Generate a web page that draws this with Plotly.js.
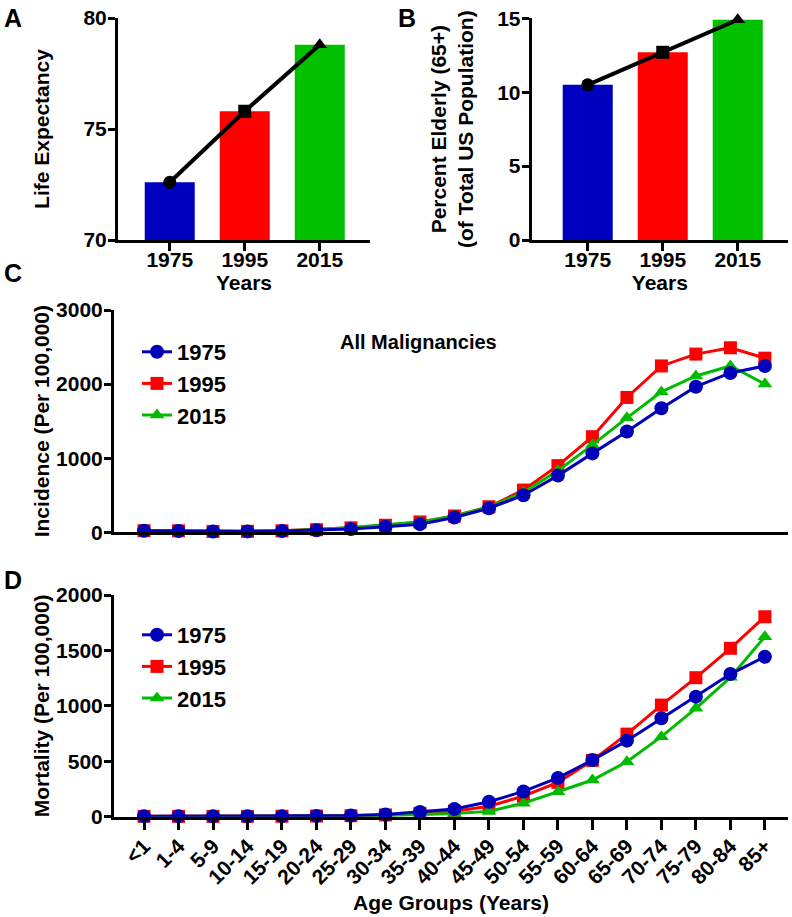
<!DOCTYPE html>
<html><head><meta charset="utf-8">
<script src="https://cdn.plot.ly/plotly-3.0.1.min.js"></script>
<style>html,body{margin:0;padding:0;background:#fff}#chart{width:792px;height:917px}</style>
</head><body><div id="chart"></div>
<script>
// ---- data ----
const years = ['1975', '1995', '2015'];
const lifeExpectancy = [72.6, 75.8, 78.8];
const percentElderly = [10.5, 12.7, 14.9];

const ageGroups = ['<1','1-4','5-9','10-14','15-19','20-24','25-29','30-34','35-39','40-44',
  '45-49','50-54','55-59','60-64','65-69','70-74','75-79','80-84','85+'];

const incidence1975 = [20, 18, 10, 12, 18, 28, 45, 75, 110, 200, 325, 500, 765, 1065, 1360, 1675, 1965, 2150, 2245];
const incidence1995 = [22, 20, 12, 13, 20, 35, 60, 95, 140, 220, 345, 570, 900, 1290, 1820, 2245, 2405, 2490, 2350];
const incidence2015 = [25, 22, 13, 15, 22, 38, 65, 100, 140, 220, 340, 540, 830, 1180, 1545, 1895, 2110, 2245, 2000];

const mortality1975 = [4, 4, 4, 4, 5, 7, 10, 20, 42, 70, 135, 228, 350, 511, 686, 888, 1083, 1287, 1443];
const mortality1995 = [3, 3, 3, 3, 4, 6, 9, 16, 30, 50, 95, 185, 310, 508, 745, 1007, 1254, 1519, 1804];
const mortality2015 = [2, 2, 2, 2, 3, 4, 6, 10, 18, 28, 48, 122, 225, 331, 496, 722, 978, 1257, 1624];

const panelLabels = ['A', 'B', 'C', 'D'];

// ---- styles ----
const W = 792, H = 917;
const FONT = '"Liberation Sans", Arial, sans-serif';
const barColors = ['#0000BF', '#FF0000', '#00C000'];
const lineColors = {y1975: '#0000B8', y1995: '#FF0000', y2015: '#00BB00'};
const px = v => v / W;
const py = v => 1 - v / H;

const traces = [];
// Panel A
traces.push({type: 'bar', x: years, y: lifeExpectancy, xaxis: 'x', yaxis: 'y',
  marker: {color: barColors, line: {width: 0}}, width: 0.667, showlegend: false});
traces.push({type: 'scatter', mode: 'lines+markers', x: years, y: lifeExpectancy, xaxis: 'x', yaxis: 'y',
  line: {color: '#000', width: 4}, marker: {color: '#000', size: 13, symbol: ['circle', 'square', 'triangle-up']},
  showlegend: false, cliponaxis: false});
// Panel B
traces.push({type: 'bar', x: years, y: percentElderly, xaxis: 'x2', yaxis: 'y2',
  marker: {color: barColors, line: {width: 0}}, width: 0.667, showlegend: false});
traces.push({type: 'scatter', mode: 'lines+markers', x: years, y: percentElderly, xaxis: 'x2', yaxis: 'y2',
  line: {color: '#000', width: 4}, marker: {color: '#000', size: 13, symbol: ['circle', 'square', 'triangle-up']},
  showlegend: false, cliponaxis: false});

function series(y, name, color, symbol, xa, ya, leg, rank) {
  return {type: 'scatter', mode: 'lines+markers', x: ageGroups, y: y, name: name,
    xaxis: xa, yaxis: ya, legend: leg, legendrank: rank, legendgroup: leg + name,
    line: {color: color, width: 3}, marker: {color: color, size: symbol === 'circle' ? 14 : 13, symbol: symbol},
    cliponaxis: false};
}
// Panel C (draw order: red, green, blue on top)
traces.push(series(incidence1995, '1995', lineColors.y1995, 'square', 'x3', 'y3', 'legend', 2));
traces.push(series(incidence2015, '2015', lineColors.y2015, 'triangle-up', 'x3', 'y3', 'legend', 3));
traces.push(series(incidence1975, '1975', lineColors.y1975, 'circle', 'x3', 'y3', 'legend', 1));
// Panel D
traces.push(series(mortality1995, '1995', lineColors.y1995, 'square', 'x4', 'y4', 'legend2', 2));
traces.push(series(mortality2015, '2015', lineColors.y2015, 'triangle-up', 'x4', 'y4', 'legend2', 3));
traces.push(series(mortality1975, '1975', lineColors.y1975, 'circle', 'x4', 'y4', 'legend2', 1));

const tickFont = {family: FONT, size: 21, color: '#000', weight: 'bold'};
const titleFont = {family: FONT, size: 21, color: '#000', weight: 'bold'};

function yax(domain, range, dtick, title, standoff, anchor) {
  return {domain: domain, range: range, dtick: dtick, tick0: range[0], anchor: anchor,
    showline: true, linewidth: 3, linecolor: '#000', ticks: 'outside', ticklen: 7, tickwidth: 3, tickcolor: '#000',
    ticklabelstandoff: -3,
    showgrid: false, zeroline: false, tickfont: tickFont,
    title: {text: title, font: titleFont, standoff: standoff}, fixedrange: true};
}
function xax(domain, range, anchor, extra) {
  return Object.assign({domain: domain, range: range, type: 'category', anchor: anchor,
    showline: true, linewidth: 3, linecolor: '#000', showgrid: false, zeroline: false,
    tickfont: tickFont, fixedrange: true}, extra);
}

const layout = {
  width: W, height: H, margin: {l: 0, r: 0, t: 0, b: 0},
  paper_bgcolor: '#fff', plot_bgcolor: 'rgba(0,0,0,0)',
  font: {family: FONT, color: '#000'},
  xaxis: xax([px(118), px(370)], [-0.69, 2.67], 'y', {ticks: 'outside', ticklen: 8, tickwidth: 3, tickcolor: '#000',
    ticklabelstandoff: -9, title: {text: 'Years', font: titleFont, standoff: 0}}),
  yaxis: yax([py(240), py(18)], [70, 80], 5, 'Life Expectancy', 29, 'x'),
  xaxis2: xax([px(531.7), px(788)], [-0.747, 2.67], 'y2', {ticks: 'outside', ticklen: 8, tickwidth: 3, tickcolor: '#000',
    ticklabelstandoff: -9, title: {text: 'Years', font: titleFont, standoff: 0}}),
  yaxis2: yax([py(240), py(18.3)], [0, 15], 5, 'Percent Elderly (65+)<br>(of Total US Population)', 18, 'x2'),
  xaxis3: xax([px(114), px(788)], [-0.87, 18.67], 'y3', {showticklabels: false, ticks: ''}),
  yaxis3: yax([py(532.3), py(310)], [0, 3000], 1000, 'Incidence (Per 100,000)', 1, 'x3'),
  xaxis4: xax([px(114), px(788)], [-0.87, 18.67], 'y4', {ticks: 'outside', ticklen: 10, tickwidth: 3, tickcolor: '#000',
    tickangle: -45, ticklabelstandoff: -4, title: {text: 'Age Groups (Years)', font: titleFont, standoff: 8}}),
  yaxis4: yax([py(816.7), py(595)], [0, 2000], 500, 'Mortality (Per 100,000)', 1, 'x4'),
  legend: {x: px(137), xanchor: 'left', y: py(331), yanchor: 'top', bgcolor: 'rgba(0,0,0,0)',
    font: {family: FONT, size: 22, color: '#000', weight: 'bold'}, traceorder: 'grouped', tracegroupgap: 0},
  legend2: {x: px(137), xanchor: 'left', y: py(614), yanchor: 'top', bgcolor: 'rgba(0,0,0,0)',
    font: {family: FONT, size: 22, color: '#000', weight: 'bold'}, traceorder: 'grouped', tracegroupgap: 0},
  annotations: [
    {text: 'All Malignancies', xref: 'paper', yref: 'paper', x: px(418), y: py(342), xanchor: 'center', yanchor: 'middle',
      showarrow: false, font: {family: FONT, size: 20, color: '#000', weight: 'bold'}},
    {text: panelLabels[0], xref: 'paper', yref: 'paper', x: px(2), y: py(2), xanchor: 'left', yanchor: 'top',
      showarrow: false, font: {family: FONT, size: 25, color: '#000', weight: 'bold'}},
    {text: panelLabels[1], xref: 'paper', yref: 'paper', x: px(396), y: py(2), xanchor: 'left', yanchor: 'top',
      showarrow: false, font: {family: FONT, size: 25, color: '#000', weight: 'bold'}},
    {text: panelLabels[2], xref: 'paper', yref: 'paper', x: px(2), y: py(257), xanchor: 'left', yanchor: 'top',
      showarrow: false, font: {family: FONT, size: 25, color: '#000', weight: 'bold'}},
    {text: panelLabels[3], xref: 'paper', yref: 'paper', x: px(2), y: py(564), xanchor: 'left', yanchor: 'top',
      showarrow: false, font: {family: FONT, size: 25, color: '#000', weight: 'bold'}}
  ]
};

Plotly.newPlot('chart', traces, layout, {displayModeBar: false, staticPlot: true});
</script>
</body></html>
